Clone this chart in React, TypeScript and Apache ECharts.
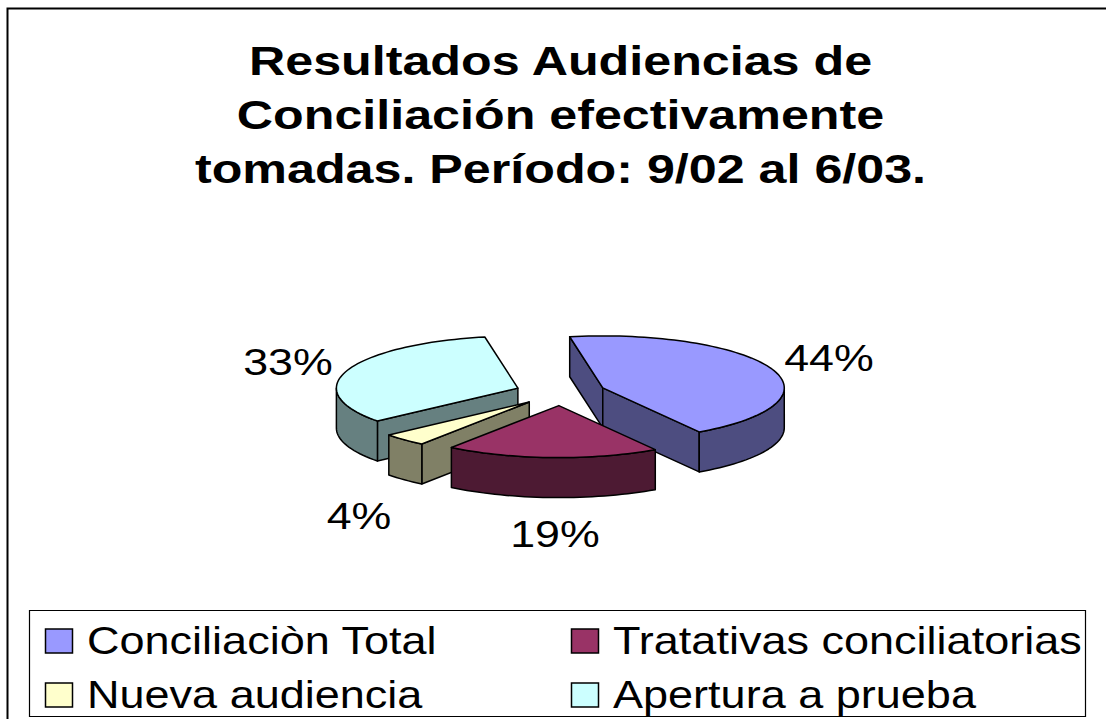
import React, { useEffect, useRef } from "react";
import * as echarts from "echarts";

const titleLines = ["Resultados Audiencias de", "Conciliación efectivamente", "tomadas. Período: 9/02 al 6/03."];
const categories = ["Conciliaciòn Total", "Tratativas conciliatorias", "Nueva audiencia", "Apertura a prueba"];
const shares = [44, 19, 4, 33];
const topColors = ["#9999FF", "#993366", "#FFFFCC", "#CCFFFF"];
const sideColors = ["#4D4D80", "#4D1A33", "#808066", "#668080"];

// layout of the tilted pie and of the horizontally stretched texts
const FONT = "'Liberation Sans', Arial, sans-serif";
const TITLE_STRETCH = 1.225, LEGEND_STRETCH = 1.185, LABEL_STRETCH = 1.21;
const CX = 560.5, CY = 392.6, RX = 181.5, RY = 52, DEPTH = 40, EXPLODE = 0.25, START = -10.5;
const labelPlacement = [[829, 358], [555, 534], [359, 516], [288, 362]];
const titleCenters = [61, 115, 169];
const legendPlacement = [[45, 641], [571, 641], [45, 695], [571, 695]];
const drawOrder = [3, 0, 2, 1];

const rad = (d: number) => (d * Math.PI) / 180;
const total = shares.reduce((a, b) => a + b, 0);

function sliceGeometry(i: number) {
  const before = shares.slice(0, i).reduce((a, b) => a + b, 0);
  const a0 = START + (before / total) * 360;
  const a1 = a0 + (shares[i] / total) * 360;
  const mid = (a0 + a1) / 2;
  const cx = CX + EXPLODE * RX * Math.sin(rad(mid));
  const cy = CY - EXPLODE * RY * Math.cos(rad(mid));
  return { a0, a1, cx, cy };
}

function stretchedText(text: string, x: number, y: number, fontSize: number, align: string, stretch: number, bold = false) {
  return {
    type: "text",
    x,
    y,
    scaleX: stretch,
    z: 20,
    style: {
      text,
      x: 0,
      y: 0,
      fill: "#000",
      fontSize,
      fontWeight: bold ? "bold" : "normal",
      fontFamily: FONT,
      textAlign: align,
      textVerticalAlign: "middle",
    },
  };
}

function renderSlice(i: number) {
  const { a0, a1, cx, cy } = sliceGeometry(i);
  const rim = (a: number, dz = 0) => [cx + RX * Math.sin(rad(a)), cy - RY * Math.cos(rad(a)) + dz];
  const arc = (from: number, to: number, dz = 0) => {
    const n = Math.max(2, Math.ceil(Math.abs(to - from) / 2));
    const pts: number[][] = [];
    for (let k = 0; k <= n; k++) pts.push(rim(from + ((to - from) * k) / n, dz));
    return pts;
  };
  const stroke = { stroke: "#000", lineWidth: 1.5, lineJoin: "round" };
  const side = { ...stroke, fill: sideColors[i] };
  const children: any[] = [];
  const wall = (a: number) => {
    const p = rim(a);
    return [[cx, cy], p, [p[0], p[1] + DEPTH], [cx, cy + DEPTH]];
  };
  if (Math.sin(rad(a0)) < 0) children.push({ type: "polygon", shape: { points: wall(a0) }, style: side });
  if (Math.sin(rad(a1)) > 0) children.push({ type: "polygon", shape: { points: wall(a1) }, style: side });
  // outer wall: only the near half of the rim, 90..270 degrees clockwise from the top
  const from = Math.max(a0, 90), to = Math.min(a1, 270);
  if (to > from) {
    children.push({
      type: "polygon",
      shape: { points: [...arc(from, to), ...arc(to, from, DEPTH)] },
      style: side,
    });
  }
  children.push({
    type: "polygon",
    shape: { points: [[cx, cy], ...arc(a0, a1)] },
    style: { ...stroke, fill: topColors[i] },
  });
  children.push(stretchedText(`${shares[i]}%`, labelPlacement[i][0], labelPlacement[i][1], 37, "center", LABEL_STRETCH));
  return { type: "group", children };
}

export default function App() {
  const ref = useRef<HTMLDivElement>(null);
  useEffect(() => {
    document.body.style.margin = "0";
    const chart = echarts.init(ref.current!, null, { renderer: "svg" });
    chart.setOption({
      animation: false,
      backgroundColor: "#fff",
      graphic: [
        {
          type: "polyline",
          shape: { points: [[7.5, 719], [7.5, 8.5], [1106, 8.5]] },
          style: { stroke: "#000", lineWidth: 2, fill: "none" },
        },
        {
          type: "rect",
          shape: { x: 29.5, y: 610.5, width: 1056, height: 106 },
          style: { stroke: "#000", lineWidth: 1.2, fill: "none" },
        },
        ...titleLines.map((line, i) => stretchedText(line, 560.5, titleCenters[i], 41, "center", TITLE_STRETCH, true)),
        ...categories.flatMap((name, i) => [
          {
            type: "rect",
            shape: { x: legendPlacement[i][0] + 0.5, y: legendPlacement[i][1] - 12, width: 27, height: 24 },
            style: { fill: topColors[i], stroke: "#000", lineWidth: 1.5 },
          },
          stretchedText(name, legendPlacement[i][0] + 42, legendPlacement[i][1], 38, "left", LEGEND_STRETCH),
        ]),
      ],
      series: categories.map((name, i) => ({
        type: "custom",
        name,
        coordinateSystem: "none",
        silent: true,
        z: 2 + drawOrder.indexOf(i),
        itemStyle: { color: topColors[i] },
        data: [[shares[i]]],
        renderItem: () => renderSlice(i),
      })),
    });
    return () => chart.dispose();
  }, []);
  return <div ref={ref} style={{ position: "fixed", left: 0, top: 0, width: 1106, height: 719 }} />;
}
